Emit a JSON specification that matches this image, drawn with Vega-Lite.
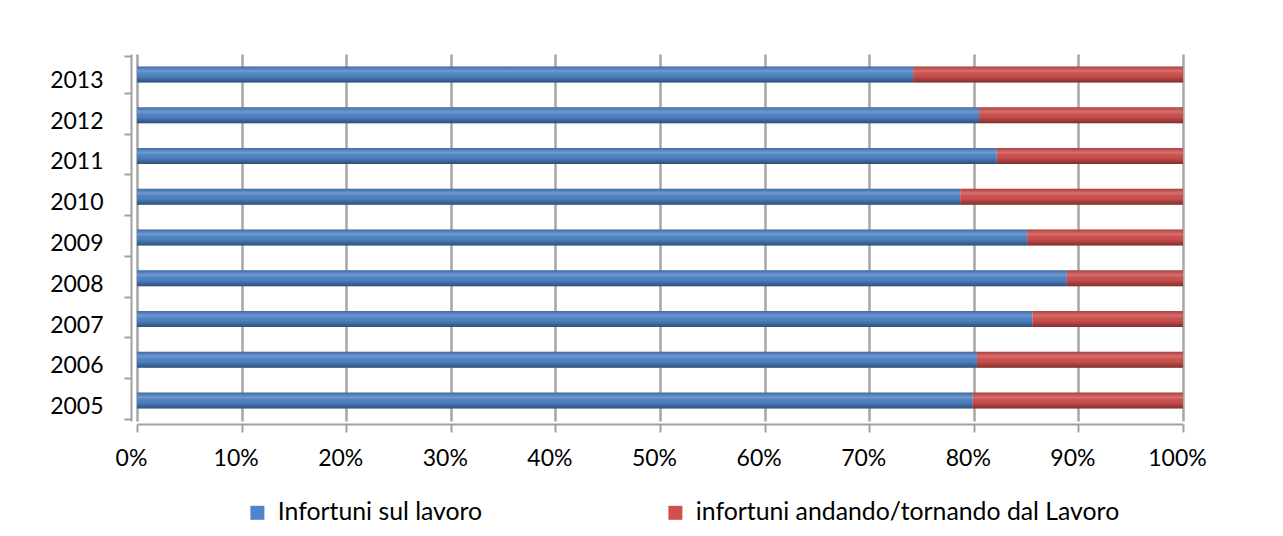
{
  "$schema": "https://vega.github.io/schema/vega-lite/v6.json",
  "autosize": "none",
  "width": 1046,
  "height": 367,
  "padding": {"left": 137, "top": 54, "right": 100, "bottom": 115},
  "background": "white",
  "config": {
    "view": {"stroke": null},
    "font": "Lato",
    "axis": {"labelFont": "Lato", "labelFontSize": 23, "labelColor": "#000000"}
  },
  "data": {
    "values": [
      {"year": "2013", "series": "Infortuni sul lavoro", "pct": 74.2},
      {"year": "2013", "series": "infortuni andando/tornando dal Lavoro", "pct": 25.8},
      {"year": "2012", "series": "Infortuni sul lavoro", "pct": 80.5},
      {"year": "2012", "series": "infortuni andando/tornando dal Lavoro", "pct": 19.5},
      {"year": "2011", "series": "Infortuni sul lavoro", "pct": 82.2},
      {"year": "2011", "series": "infortuni andando/tornando dal Lavoro", "pct": 17.8},
      {"year": "2010", "series": "Infortuni sul lavoro", "pct": 78.7},
      {"year": "2010", "series": "infortuni andando/tornando dal Lavoro", "pct": 21.3},
      {"year": "2009", "series": "Infortuni sul lavoro", "pct": 85.1},
      {"year": "2009", "series": "infortuni andando/tornando dal Lavoro", "pct": 14.9},
      {"year": "2008", "series": "Infortuni sul lavoro", "pct": 88.9},
      {"year": "2008", "series": "infortuni andando/tornando dal Lavoro", "pct": 11.1},
      {"year": "2007", "series": "Infortuni sul lavoro", "pct": 85.6},
      {"year": "2007", "series": "infortuni andando/tornando dal Lavoro", "pct": 14.4},
      {"year": "2006", "series": "Infortuni sul lavoro", "pct": 80.3},
      {"year": "2006", "series": "infortuni andando/tornando dal Lavoro", "pct": 19.7},
      {"year": "2005", "series": "Infortuni sul lavoro", "pct": 79.9},
      {"year": "2005", "series": "infortuni andando/tornando dal Lavoro", "pct": 20.1}
    ]
  },
  "layer": [
    {
      "mark": {"type": "bar", "height": 16},
      "encoding": {
        "y": {
          "field": "year", "type": "nominal", "sort": "descending", "title": null,
          "axis": {
            "domainColor": "#a0a0a0", "domainWidth": 2, "offset": 6,
            "tickColor": "#a0a0a0", "tickWidth": 2, "tickSize": 7, "tickBand": "extent",
            "labelPadding": 21, "labelOffset": 6, "grid": false
          }
        },
        "x": {
          "field": "pct", "type": "quantitative", "stack": "normalize", "title": null,
          "scale": {"domain": [0, 1]},
          "axis": {
            "values": [0, 0.1, 0.2, 0.3, 0.4, 0.5, 0.6, 0.7, 0.8, 0.9, 1],
            "format": ".0%", "grid": true, "gridColor": "#a6a6a6", "gridWidth": 2.5,
            "domainColor": "#a0a0a0", "domainWidth": 2, "offset": 3,
            "tickColor": "#a0a0a0", "tickWidth": 2, "tickSize": 8, "labelPadding": 15,
            "labelFlush": false, "labelOffset": -6
          }
        },
        "color": {
          "field": "series", "type": "nominal",
          "scale": {
            "domain": ["Infortuni sul lavoro", "infortuni andando/tornando dal Lavoro"],
            "range": ["#4f84c8", "#d0504d"]
          },
          "legend": {
            "title": null, "orient": "none", "legendX": 108, "legendY": 446,
            "direction": "horizontal", "columns": 2, "columnPadding": 180,
            "symbolType": "square", "symbolSize": 196, "symbolStrokeWidth": 0,
            "labelFont": "Lato", "labelFontSize": 24.8, "labelColor": "#000000",
            "labelOffset": 8, "labelLimit": 600
          }
        }
      }
    },
    {
      "mark": {
        "type": "bar", "height": 16,
        "fill": {
          "gradient": "linear", "x1": 0, "y1": 0, "x2": 0, "y2": 1,
          "stops": [
            {"offset": 0, "color": "rgba(0,0,0,0.18)"},
            {"offset": 0.3, "color": "rgba(255,255,255,0.18)"},
            {"offset": 0.6, "color": "rgba(0,0,0,0.02)"},
            {"offset": 1, "color": "rgba(0,0,0,0.4)"}
          ]
        }
      },
      "encoding": {
        "y": {"field": "year", "type": "nominal", "sort": "descending"},
        "x": {"field": "pct", "type": "quantitative", "stack": "normalize"}
      }
    }
  ]
}
